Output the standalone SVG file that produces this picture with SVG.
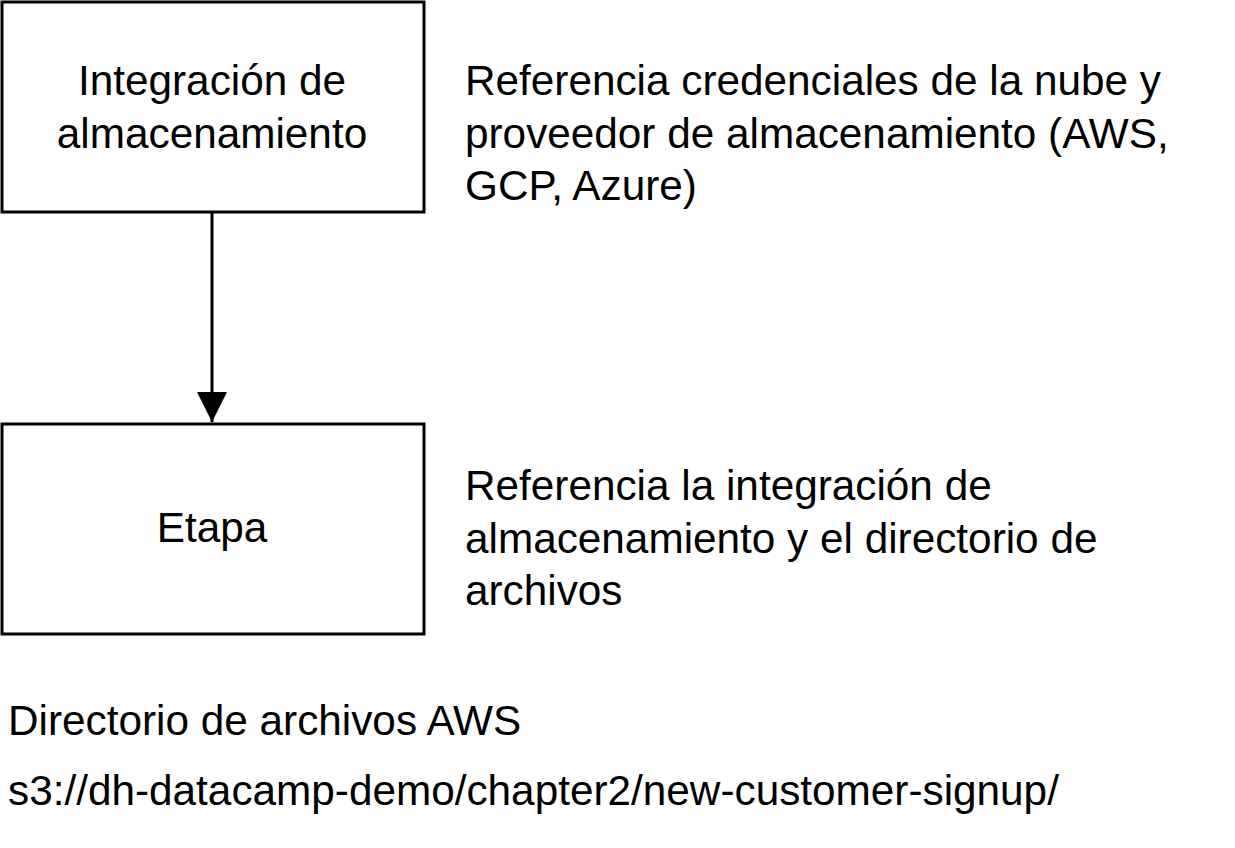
<svg xmlns="http://www.w3.org/2000/svg" width="1235" height="848" viewBox="0 0 1235 848">
<style>
text{font-family:"Liberation Sans",Arial,sans-serif;font-size:42.3px;fill:#000}
.c{text-anchor:middle}
.box{fill:#fff;stroke:#000;stroke-width:3}
</style>
<defs><marker id="b" viewBox="0 0 32 30" refX="30" refY="15" markerWidth="32" markerHeight="30" markerUnits="userSpaceOnUse" orient="auto"><path d="M0,0L30,15L0,30z" fill="#000"/></marker></defs>
<rect width="1235" height="848" fill="#fff"/>
<g id="n1"><rect class="box" x="2" y="2" width="422" height="210"/><text class="c" x="212" y="95">Integración de</text><text class="c" x="212" y="148">almacenamiento</text></g>
<g id="n2"><rect class="box" x="2" y="424" width="422" height="210"/><text class="c" x="212" y="542">Etapa</text></g>
<g id="edges"><line x1="212" y1="212" x2="212" y2="422" stroke="#000" stroke-width="3" marker-end="url(#b)"/></g>
<g id="t1"><text x="465" y="95">Referencia credenciales de la nube y</text><text x="465" y="148">proveedor de almacenamiento (AWS,</text><text x="465" y="200">GCP, Azure)</text></g>
<g id="t2"><text x="465" y="500">Referencia la integración de</text><text x="465" y="553">almacenamiento y el directorio de</text><text x="465" y="605">archivos</text></g>
<g id="t3"><text x="8" y="735">Directorio de archivos AWS</text><text x="8" y="805">s3://dh-datacamp-demo/chapter2/new-customer-signup/</text></g>
</svg>
